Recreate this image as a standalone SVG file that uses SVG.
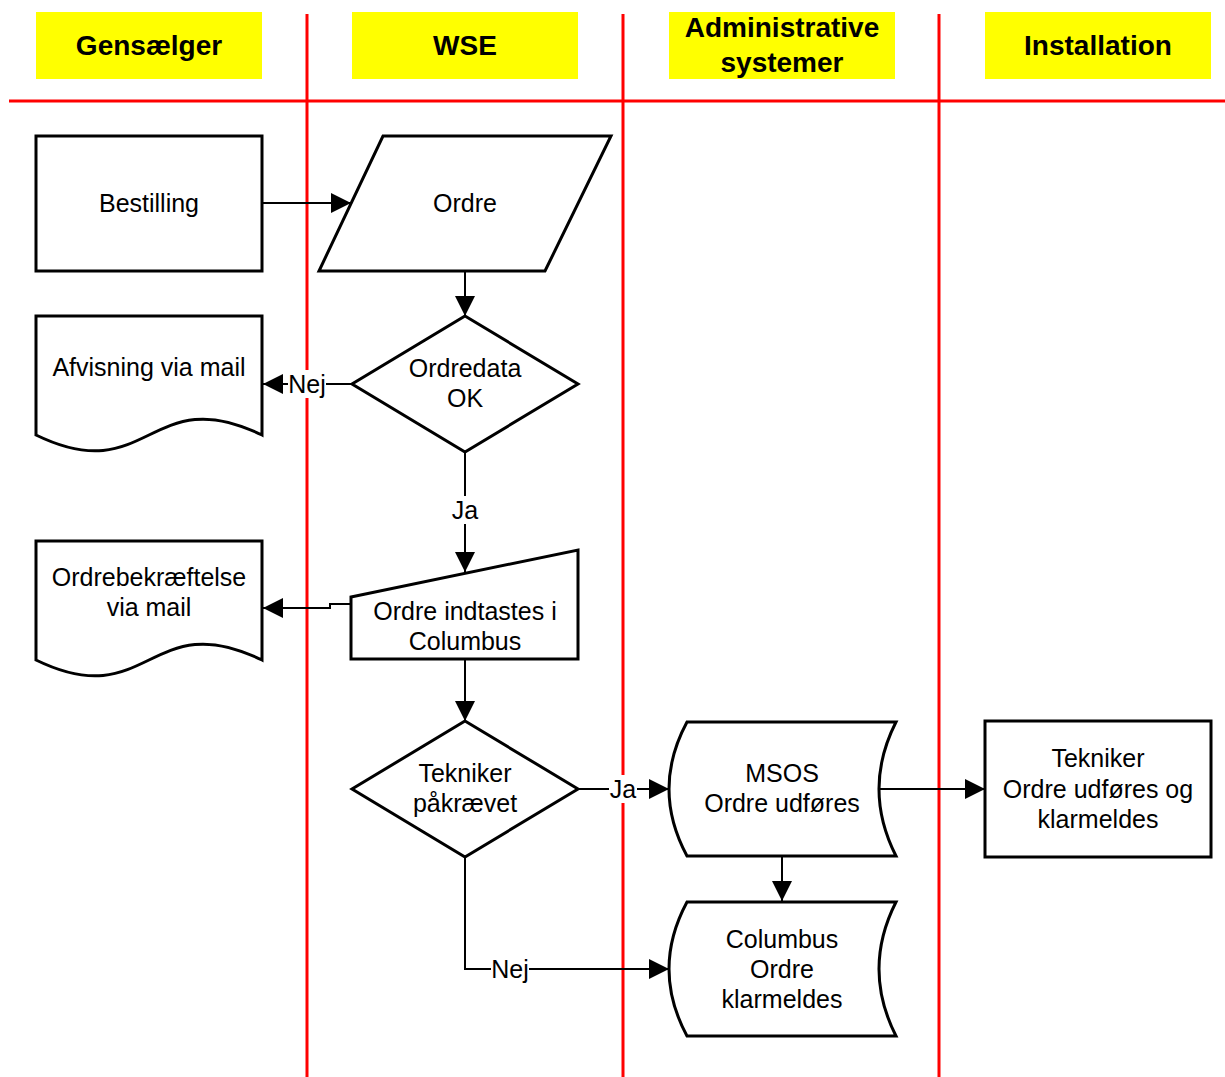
<svg xmlns="http://www.w3.org/2000/svg" width="1225" height="1077" viewBox="0 0 1225 1077">
<style>
.lane{stroke:#ff0000;stroke-width:3;fill:none}
.hdr{fill:#ffff00}
.ht{font-family:"Liberation Sans",Arial,sans-serif;font-weight:bold;font-size:28px;text-anchor:middle;fill:#000}
.n{fill:#fff;stroke:#000;stroke-width:3}
.t{font-family:"Liberation Sans",Arial,sans-serif;font-size:25px;text-anchor:middle;fill:#000}
.c{fill:none;stroke:#000;stroke-width:2}
.lb{fill:#fff}
</style>
<defs>
<marker id="ah" markerUnits="userSpaceOnUse" markerWidth="20" markerHeight="20" refX="20" refY="10" orient="auto">
<path d="M0,0 L20,10 L0,20 Z" fill="#000"/>
</marker>
</defs>
<rect width="1225" height="1077" fill="#fff"/>
<g id="lanes">
<line class="lane" x1="9" y1="101" x2="1225" y2="101"/>
<line class="lane" x1="307" y1="14" x2="307" y2="1077"/>
<line class="lane" x1="623" y1="14" x2="623" y2="1077"/>
<line class="lane" x1="939" y1="14" x2="939" y2="1077"/>
</g>
<g id="headers">
<rect class="hdr" x="36" y="12" width="226" height="67"/>
<text class="ht" x="149" y="55">Gensælger</text>
<rect class="hdr" x="352" y="12" width="226" height="67"/>
<text class="ht" x="465" y="55">WSE</text>
<rect class="hdr" x="669" y="12" width="226" height="67"/>
<text class="ht" x="782" y="37">Administrative</text>
<text class="ht" x="782" y="72">systemer</text>
<rect class="hdr" x="985" y="12" width="226" height="67"/>
<text class="ht" x="1098" y="55">Installation</text>
</g>
<g id="connectors">
<line class="c" x1="262" y1="203" x2="351" y2="203" marker-end="url(#ah)"/>
<line class="c" x1="465" y1="271" x2="465" y2="316" marker-end="url(#ah)"/>
<line class="c" x1="352" y1="384" x2="263" y2="384" marker-end="url(#ah)"/>
<line class="c" x1="465" y1="452" x2="465" y2="572" marker-end="url(#ah)"/>
<polyline class="c" points="351,604 330,604 330,608 263,608" marker-end="url(#ah)"/>
<line class="c" x1="465" y1="659" x2="465" y2="721" marker-end="url(#ah)"/>
<line class="c" x1="578" y1="789" x2="669" y2="789" marker-end="url(#ah)"/>
<line class="c" x1="879" y1="789" x2="985" y2="789" marker-end="url(#ah)"/>
<line class="c" x1="782" y1="857" x2="782" y2="901" marker-end="url(#ah)"/>
<polyline class="c" points="465,857 465,969 669,969" marker-end="url(#ah)"/>
<rect class="lb" x="288" y="370" width="38" height="28"/>
<text class="t" x="307" y="393">Nej</text>
<rect class="lb" x="451" y="496" width="28" height="28"/>
<text class="t" x="465" y="519">Ja</text>
<rect class="lb" x="609" y="775" width="28" height="28"/>
<text class="t" x="623" y="798">Ja</text>
<rect class="lb" x="491" y="955" width="38" height="28"/>
<text class="t" x="510" y="978">Nej</text>
</g>
<g id="bestilling">
<rect class="n" x="36" y="136" width="226" height="135"/>
<text class="t" x="149" y="212">Bestilling</text>
</g>
<g id="ordre">
<polygon class="n" points="383,136 611,136 545,271 319,271"/>
<text class="t" x="465" y="212">Ordre</text>
</g>
<g id="ordredata-ok">
<polygon class="n" points="465,316 578,384 465,452 352,384"/>
<text class="t" x="465" y="377">Ordredata</text>
<text class="t" x="465" y="407">OK</text>
</g>
<g id="afvisning">
<path class="n" d="M36,316 H262 V435 C149,380 149,490 36,435 Z"/>
<text class="t" x="149" y="376">Afvisning via mail</text>
</g>
<g id="indtastes">
<polygon class="n" points="351,597 578,550 578,659 351,659"/>
<text class="t" x="465" y="620">Ordre indtastes i</text>
<text class="t" x="465" y="650">Columbus</text>
</g>
<g id="ordrebekraeftelse">
<path class="n" d="M36,541 H262 V660 C149,605 149,715 36,660 Z"/>
<text class="t" x="149" y="586">Ordrebekræftelse</text>
<text class="t" x="149" y="616">via mail</text>
</g>
<g id="tekniker-paakraevet">
<polygon class="n" points="465,721 578,789 465,857 352,789"/>
<text class="t" x="465" y="782">Tekniker</text>
<text class="t" x="465" y="812">påkrævet</text>
</g>
<g id="msos">
<path class="n" d="M687,722 H896 Q862,789 896,856 H687 Q651,789 687,722 Z"/>
<text class="t" x="782" y="782">MSOS</text>
<text class="t" x="782" y="812">Ordre udføres</text>
</g>
<g id="tekniker">
<rect class="n" x="985" y="721" width="226" height="136"/>
<text class="t" x="1098" y="767">Tekniker</text>
<text class="t" x="1098" y="798">Ordre udføres og</text>
<text class="t" x="1098" y="828">klarmeldes</text>
</g>
<g id="columbus">
<path class="n" d="M687,902 H896 Q862,969 896,1036 H687 Q651,969 687,902 Z"/>
<text class="t" x="782" y="948">Columbus</text>
<text class="t" x="782" y="978">Ordre</text>
<text class="t" x="782" y="1008">klarmeldes</text>
</g>
</svg>
